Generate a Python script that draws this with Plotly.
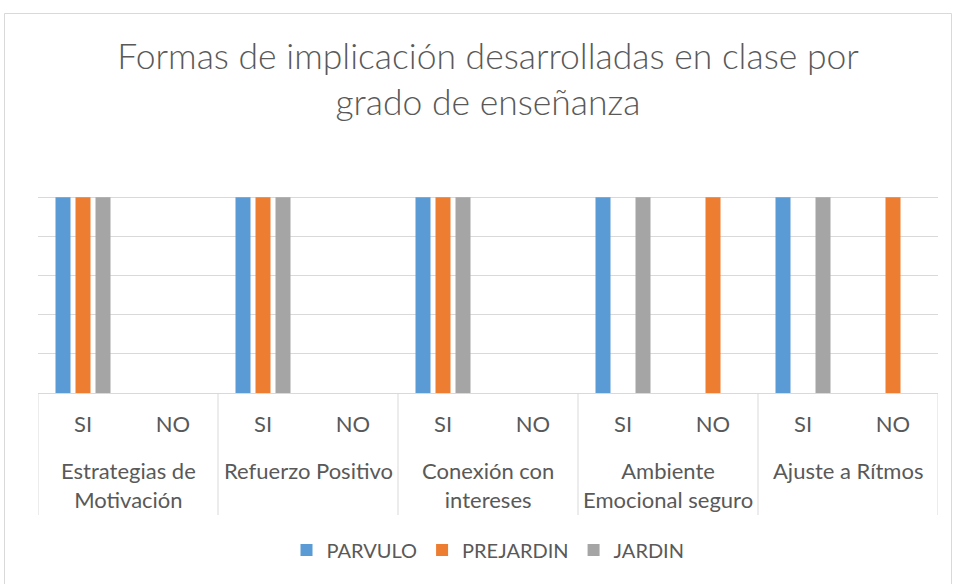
import plotly.graph_objects as go

groups = ["Estrategias de<br>Motivación", "Refuerzo Positivo", "Conexión con<br>intereses",
          "Ambiente<br>Emocional seguro", "Ajuste a Rítmos"]
answers = ["SI", "NO"]
parvulo = [1, 0, 1, 0, 1, 0, 1, 0, 1, 0]
prejardin = [1, 0, 1, 0, 1, 0, 0, 1, 0, 1]
jardin = [1, 0, 1, 0, 1, 0, 1, 0, 1, 0]
series_names = ["PARVULO", "PREJARDIN", "JARDIN"]
colors = ["#5B9BD5", "#ED7D31", "#A5A5A5"]

xkeys = [f"{g}|{a}" for g in groups for a in answers]
xs = [a for _ in groups for a in answers]

W, H = 955, 584
L, R, T, B = 38, 17, 158, 191
pw, ph = W - L - R, H - T - B
FONT = "Lato, 'Open Sans', sans-serif"
TXT = "#595959"
LINE = "#D9D9D9"

fig = go.Figure()
for name, vals, c in zip(series_names, [parvulo, prejardin, jardin], colors):
    fig.add_trace(go.Bar(x=xkeys, y=vals, name=name, marker=dict(color=c, line=dict(width=0))))

def px2x(p):
    return (p - L) / pw

def py2y(p):
    return (H - B - p) / ph

na = len(answers)
annotations = []
shapes = []
for i, g in enumerate(groups):
    annotations.append(dict(text=g, x=i * na + (na - 1) / 2, xref="x", y=py2y(455), yref="paper",
                            xanchor="center", yanchor="top", showarrow=False,
                            font=dict(size=22, color=TXT, family=FONT)))
for i in range(len(groups) + 1):
    shapes.append(dict(type="line", xref="x", yref="paper", x0=i * na - 0.5, x1=i * na - 0.5,
                       y0=0, y1=py2y(515), line=dict(color=LINE, width=1)))
shapes.append(dict(type="rect", xref="paper", yref="paper",
                   x0=px2x(4.5), x1=px2x(951.5), y0=py2y(600), y1=py2y(13.5),
                   line=dict(color=LINE, width=1), fillcolor="rgba(0,0,0,0)", layer="below"))

fig.update_layout(
    width=W, height=H,
    margin=dict(l=L, r=R, t=T, b=B),
    paper_bgcolor="white", plot_bgcolor="white",
    barmode="group", bargap=1/3, bargroupgap=0.25,
    font=dict(family=FONT, color=TXT, size=20),
    title=dict(text="Formas de implicación desarrolladas en clase por<br>grado de enseñanza",
               x=0.5, xref="paper", xanchor="center",
               y=1 - 69 / H, yref="container", yanchor="middle",
               font=dict(size=35.5, color=TXT, family=FONT, weight=300)),
    legend=dict(orientation="h", x=0.5, xanchor="center", y=py2y(550), yanchor="middle",
                font=dict(size=20, color=TXT), itemwidth=30, traceorder="normal"),
    xaxis=dict(type="category", tickvals=xkeys, ticktext=xs, showline=True, linecolor=LINE,
               linewidth=1, tickfont=dict(size=22, color=TXT), ticks="", showgrid=False,
               ticklabelstandoff=12, range=[-0.5, len(xkeys) - 0.5]),
    yaxis=dict(range=[0, 1.2001], dtick=0.2, showticklabels=False, showgrid=True,
               gridcolor=LINE, gridwidth=1, zeroline=False, showline=False, ticks=""),
    annotations=annotations,
    shapes=shapes,
)

fig.write_html("out.html", config={"displayModeBar": False},
               post_script="document.body.style.margin='0';document.body.style.overflow='hidden';")
